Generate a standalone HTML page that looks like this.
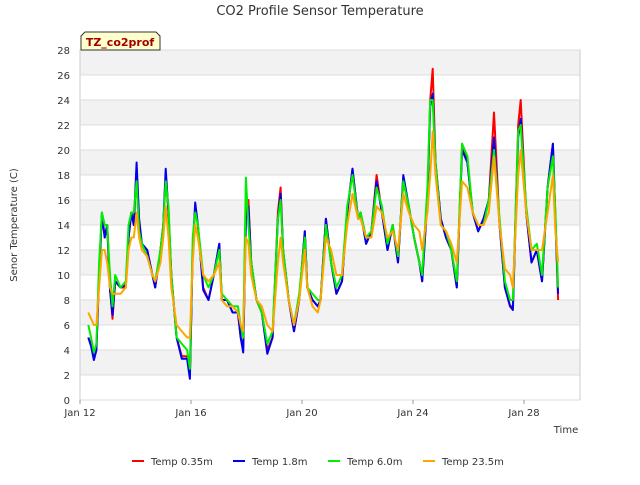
<!DOCTYPE html>
<html><head><meta charset="utf-8"><style>
body{margin:0;background:#fff;font-family:"Liberation Sans",sans-serif}
svg text{font-family:"DejaVu Sans","Liberation Sans",sans-serif}
</style></head><body>
<svg id="chart" width="640" height="480">
<text x="320" y="15" text-anchor="middle" font-size="13" fill="#333">CO2 Profile Sensor Temperature</text>
<g id="bands"></g>
<rect x="80" y="50" width="500" height="350" fill="none" stroke="#ccc"/>
<g id="yt"></g><g id="xt"></g>
<text transform="translate(17,225) rotate(-90)" text-anchor="middle" font-size="10" fill="#333">Senor Temperature (C)</text>
<text x="566" y="433" text-anchor="middle" font-size="10" fill="#333">Time</text>
<g id="series"></g>
<g>
<path d="M81,50 L81,36 L85,32 L156,32 L160,36 L160,50 Z" fill="#ffffcc" stroke="#333"/>
<text x="120" y="46" text-anchor="middle" font-size="11" font-weight="bold" fill="#a00000">TZ_co2prof</text>
</g>
<g id="legend"></g>
</svg>
<script>
const times=[12.3,12.4,12.5,12.59,12.69,12.79,12.89,12.98,13.08,13.17,13.27,13.46,13.65,13.75,13.85,13.94,14.04,14.13,14.23,14.42,14.61,14.71,14.9,15.0,15.09,15.19,15.29,15.48,15.67,15.86,15.96,16.06,16.15,16.25,16.44,16.63,16.82,17.02,17.11,17.3,17.5,17.69,17.79,17.88,17.98,18.07,18.17,18.36,18.55,18.75,18.94,19.13,19.23,19.32,19.52,19.71,19.9,20.1,20.19,20.38,20.57,20.67,20.86,21.05,21.24,21.44,21.63,21.82,22.02,22.11,22.31,22.5,22.69,22.88,23.08,23.27,23.46,23.65,23.85,24.04,24.23,24.33,24.52,24.62,24.71,24.81,25.0,25.19,25.38,25.58,25.77,25.96,26.15,26.35,26.54,26.73,26.92,27.12,27.31,27.5,27.6,27.79,27.88,28.08,28.27,28.46,28.65,28.85,29.04,29.13,29.23];
const temp035=[5,4.5,3.3,4,10,15,13,14,9,6.5,9.5,9,9,13,15,14,18.5,14,12.5,12,10,9,12,14,18,15,10,5,3.5,3.5,2,12,15.5,14,9,8,10,12.5,8,8,7,7,5,4,15,16,11,8,7,4,5,15,17,12,8,5.5,8,13.5,9,8,7.5,8,14.5,11,8.5,9.5,15,18.5,14.5,15,12.5,13.5,18,15,12,14,11,17.5,15.5,13,11,9.5,16,24,26.5,19,14.5,13,12,9,20.5,19,15,13.5,14.5,16,23,14,9,7.5,7.5,22,24,15,11,12,9.5,17,20.5,14.5,8];
const temp18=[5,4.3,3.2,4,10,14.8,13,14,8.8,6.8,9.5,9,9.2,13,15,14,19,14.5,12.5,12,10,9,12,14,18.5,15,10,5,3.3,3.3,1.7,12,15.8,14,8.8,8,10,12.5,8,8,7,7,5,3.8,14.5,15.5,11,8,7,3.7,5,14.5,16.5,12,8,5.5,8,13.5,9,8,7.5,8,14.5,11,8.5,9.5,15,18.5,14.5,15,12.5,13.5,17.5,15,12,14,11,18,15.5,13,11,9.5,16,23.5,24.5,19,14.5,13,12,9,20,19,15,13.5,14.5,16,21,14,9,7.5,7.2,21,22.5,15,11,12,9.5,17,20.5,14.5,8.5];
const temp60=[6,5,3.8,4.5,11,15,14,14,10,7.5,10,9,9.5,14,15,15,17.5,13.5,12.5,11.5,10,9.5,12,14,17.5,15.5,10,5,4.5,4,2.5,13,15,14,10,9,10,12,8.5,8,7.5,7.5,6,5,17.8,14,11,8,7,4.5,5.5,14.5,16,12,8,6,8.5,13,9,8.5,8,8,14,11,9,10,15.5,18,14.5,15,13,13.5,17,15.5,12.5,14,11.5,17.5,15.5,13,11,10,17,24,24,19,14,13.5,12,9.5,20.5,19.5,15,14,14,16,20,14.5,9.5,8,8,21.5,22,15.5,12,12.5,10,17,19.5,15,9];
const temp235=[7,6.5,6,6,9,12,12,11,9,8.5,8.5,8.5,9,12,13,13,15,13,12,11.5,10,9.5,11,13,15.5,13,9,6,5.5,5,5,11,14,13,10,9.5,10,11,8,7.5,7.5,7,6,5.5,13,12.5,10,8,7.5,6,5.5,11,13,11,8,6,8,12,9,7.5,7,8,13,12,10,10,14,16.5,14.5,14.5,13,13,15.5,15,13,13.5,12,16.5,15,14,13.5,12,15,18,21.5,18,14,13.5,12.5,11,17.5,17,15,14,14,15,19.5,14,10.5,10,9,18,20,15,12,12,12,15,18,13.5,11];
const yTicks=[0,2,4,6,8,10,12,14,16,18,20,22,24,26,28];
const xTickDays=[12,16,20,24,28];
const xTickLabels=["Jan 12","Jan 16","Jan 20","Jan 24","Jan 28"];
const seriesNames=["Temp 0.35m","Temp 1.8m","Temp 6.0m","Temp 23.5m"];
const seriesColors=["#ff0000","#0000ee","#00ee00","#ffa500"];
const seriesData=[temp035,temp18,temp60,temp235];
const NS="http://www.w3.org/2000/svg";
const X=d=>80+(d-12)*27.75, Y=v=>400-v*12.5;
function mk(t,a,p){const e=document.createElementNS(NS,t);for(const k in a)e.setAttribute(k,a[k]);p.appendChild(e);return e;}
const bands=document.getElementById('bands');
for(let i=0;i<yTicks.length-1;i++){const v=yTicks[i];
 const r=mk('rect',{x:80,y:Y(yTicks[i+1]),width:500,height:Y(v)-Y(yTicks[i+1]),fill:(v/2)%2==1?'#f2f2f2':'#ffffff'},bands);
 
 }
const yt=document.getElementById('yt');
yTicks.forEach(v=>{const l=mk('line',{x1:80,x2:580,y1:Y(v),y2:Y(v),stroke:'#ddd'},yt);
 
 
 const t=mk('text',{x:70,y:Y(v)+4,'text-anchor':'end','font-size':10,fill:'#333'},yt);t.textContent=v;
 
 });
const xt=document.getElementById('xt');
xTickDays.forEach((d,i)=>{mk('line',{x1:X(d),x2:X(d),y1:400,y2:404,stroke:'#999'},xt);
 const t=mk('text',{x:X(d),y:416,'text-anchor':'middle','font-size':10,fill:'#333'},xt);t.textContent=xTickLabels[i];
 
 });
const sg=document.getElementById('series');
seriesData.forEach((arr,si)=>{const pts=arr.map((v,i)=>X(times[i]).toFixed(1)+','+Y(v).toFixed(1)).join(' ');
 const p=mk('polyline',{points:pts,fill:'none',stroke:seriesColors[si],'stroke-width':2,'stroke-linejoin':'round'},sg);
 
 });
const lg=document.getElementById('legend');const lx=[132,233,328,423];
seriesNames.forEach((n,i)=>{const g=mk('g',{},lg);
 
 
 mk('line',{x1:lx[i],x2:lx[i]+12,y1:461,y2:461,stroke:seriesColors[i],'stroke-width':2},g);
 const t=mk('text',{x:lx[i]+19,y:465,'font-size':10,fill:'#333'},g);t.textContent=n;});
</script>
</body></html>
